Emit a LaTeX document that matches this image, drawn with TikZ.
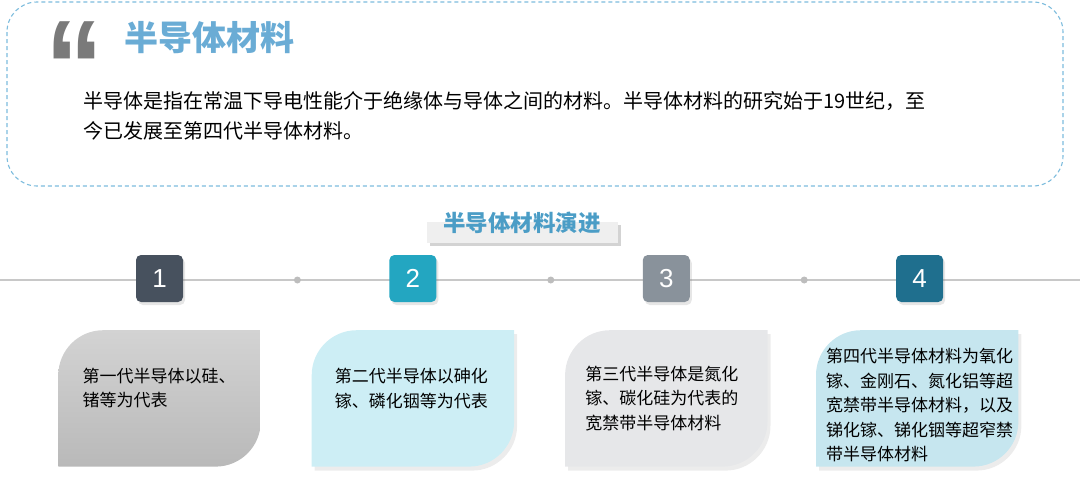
\documentclass[tikz,border=0pt]{standalone}
\usepackage{fontspec}
\setmainfont{Noto Sans CJK SC}
\newfontfamily\quotefont{Liberation Sans}
\newfontfamily\numfont{Liberation Sans}
\usetikzlibrary{
  positioning,
  shadows,
  calc
}
\definecolor{frameblue}{HTML}{7DBCDD}
\definecolor{titleblue}{HTML}{6AACD5}
\definecolor{bannerblue}{HTML}{4B9DC6}
\definecolor{bannerbg}{HTML}{EFEFEF}
\definecolor{quotegray}{HTML}{7A7A7A}
\definecolor{linegray}{HTML}{C8C8C8}
\definecolor{dotgray}{HTML}{BDBDBD}
\definecolor{sqone}{HTML}{47515E}
\definecolor{sqtwo}{HTML}{23A6C1}
\definecolor{sqthree}{HTML}{89929B}
\definecolor{sqfour}{HTML}{1F6F8E}
\definecolor{cardtop}{HTML}{D3D3D3}
\definecolor{cardbot}{HTML}{B9B9B9}
\definecolor{cardtwo}{HTML}{CDEEF5}
\definecolor{cardthree}{HTML}{E6E7E9}
\definecolor{cardfour}{HTML}{C6E6EF}

\begin{document}
\begin{tikzpicture}[
  x=1pt, y=1pt,
  frame/.style={draw=frameblue, dashed, dash pattern=on 4pt off 3pt, line width=1.1pt,
    rounded corners=30pt},
  numbox/.style={rounded corners=5pt, minimum size=47pt, inner sep=0pt, text=white,
    font=\numfont\fontsize{26}{26}\selectfont,
    drop shadow={opacity=0.2, shadow xshift=2pt, shadow yshift=-3pt}},
  card/.style={minimum width=202pt, minimum height=136pt, inner sep=0pt},
  cardtext/.style={align=left, inner sep=0pt, font=\fontsize{17}{24.5}\selectfont},
  tline/.style={draw=linegray, line width=1.5pt},
  dot/.style={circle, fill=dotgray, minimum size=7pt, inner sep=0pt},
  banner/.style={fill=bannerbg, minimum width=191pt, minimum height=21pt, inner sep=0pt,
    drop shadow={opacity=0.35, shadow xshift=3pt, shadow yshift=-3pt}}
]

  \useasboundingbox (0,0) rectangle (1080,-482);

  \draw[frame] (7,-2) rectangle (1063,-186);

  \node[font=\quotefont\bfseries\fontsize{132}{132}\selectfont, text=quotegray,
    inner sep=0pt, anchor=north, xscale=0.88] (q) at (75,-21) {“};
  \node[font=\bfseries\fontsize{34}{34}\selectfont, text=titleblue, inner sep=0pt,
    anchor=west] (title) at (124,-38) {半导体材料};
  \node[font=\fontsize{20}{30}\selectfont, align=left, inner sep=0pt, anchor=west]
    (body) at (83,-116)
    {半导体是指在常温下导电性能介于绝缘体与导体之间的材料。半导体材料的研究始于19世纪，至\\
     今已发展至第四代半导体材料。};

  \node[banner] (bar) at (522.5,-232.5) {};
  \node[font=\bfseries\fontsize{22.5}{22.5}\selectfont, text=bannerblue, inner sep=0pt]
    (bt) at (522,-223) {半导体材料演进};

  \coordinate (l0) at (0,-280);
  \coordinate (l1) at (1080,-280);
  \draw[tline] (l0) -- (l1);

  \node[numbox, fill=sqone] (n1) at (159.5,-278.5) {1};
  \node[numbox, fill=sqtwo, right=206pt of n1] (n2) {2};
  \node[numbox, fill=sqthree, right=206pt of n2] (n3) {3};
  \node[numbox, fill=sqfour, right=206pt of n3] (n4) {4};

  \node[dot, right=110.5pt of n1, yshift=-1.5pt] (d1) {};
  \node[dot, right=110.5pt of n2, yshift=-1.5pt] (d2) {};
  \node[dot, right=110.5pt of n3, yshift=-1.5pt] (d3) {};

  \node[card, below=28pt of n1] (c1) {};
  \node[card, below=28pt of n2] (c2) {};
  \node[card, below=28pt of n3] (c3) {};
  \node[card, below=28pt of n4, xshift=-2.5pt] (c4) {};

  \shade[top color=cardtop, bottom color=cardbot] (c1.south west)
    -- ([yshift=-45pt]c1.north west) arc[start angle=180, end angle=90, radius=45pt]
    -- (c1.north east)
    -- ([yshift=45pt]c1.south east) arc[start angle=0, end angle=-90, radius=45pt]
    -- cycle;
  \foreach \c/\col in {c2/cardtwo, c3/cardthree, c4/cardfour}
    \fill[\col, drop shadow={opacity=0.15, shadow xshift=3pt, shadow yshift=-4pt}]
      (\c.south west)
      -- ([yshift=-45pt]\c.north west) arc[start angle=180, end angle=90, radius=45pt]
      -- (\c.north east)
      -- ([yshift=45pt]\c.south east) arc[start angle=0, end angle=-90, radius=45pt]
      -- cycle;

  \node[cardtext, right=24pt of c1.west, yshift=10.5pt] (t1)
    {第一代半导体以硅、\\锗等为代表};
  \node[cardtext, right=23pt of c2.west, yshift=10pt] (t2)
    {第二代半导体以砷化\\镓、磷化铟等为代表};
  \node[cardtext, right=20pt of c3.west] (t3)
    {第三代半导体是氮化\\镓、碳化硅为代表的\\宽禁带半导体材料};
  \node[cardtext, right=10pt of c4.west, yshift=-7pt] (t4)
    {第四代半导体材料为氧化\\镓、金刚石、氮化铝等超\\宽禁带半导体材料，以及\\锑化镓、锑化铟等超窄禁\\带半导体材料};

\end{tikzpicture}
\end{document}
